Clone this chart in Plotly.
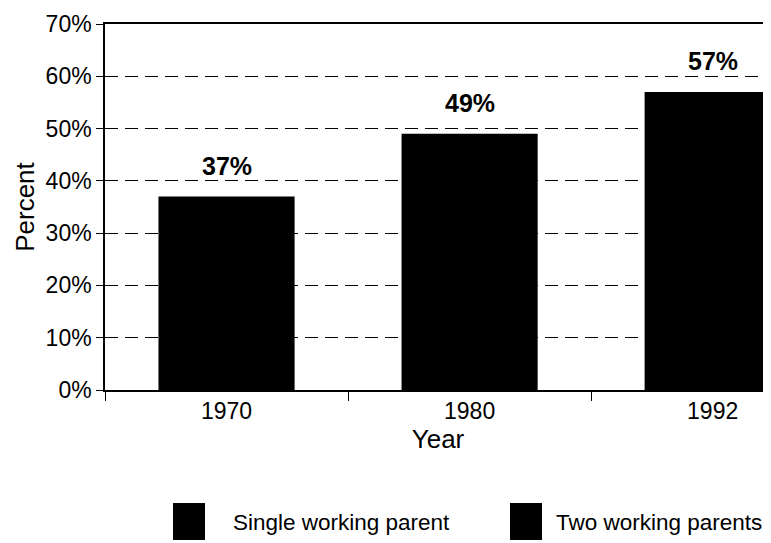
import plotly.graph_objects as go

years = ["1970", "1980", "1992"]
two_working = [37, 49, 57]
legend_labels = ["Single working parent", "Two working parents"]
y_ticks = [0, 10, 20, 30, 40, 50, 60, 70]
y_tick_text = [f"{v}%" for v in y_ticks]

FONT = "Arial, Liberation Sans, sans-serif"

fig = go.Figure()
fig.add_trace(go.Bar(
    x=years, y=two_working, name=legend_labels[1],
    marker=dict(color="black", line=dict(width=0)),
    showlegend=False,
))

# value labels above bars (category index positions)
for i, v in enumerate(two_working):
    fig.add_annotation(x=i, y=v, xref="x", yref="y", text=f"<b>{v}%</b>",
                       showarrow=False, yanchor="bottom", yshift=15,
                       font=dict(family=FONT, size=25, color="black"))

# manual legend (large black squares); window-pixel helpers (page body offset 8px)
PX_W, PX_H = 666, 366
def px(xp):
    return (xp - 105) / PX_W
def py(yp):
    return (390 - yp) / PX_H

for (x0, x1), lab, tx in zip([(173, 205), (510, 542)], legend_labels, [231, 554]):
    fig.add_shape(type="rect", xref="paper", yref="paper",
                  x0=px(x0), x1=px(x1), y0=py(540), y1=py(503),
                  fillcolor="black", line=dict(width=0))
    fig.add_annotation(xref="paper", yref="paper", x=px(tx), y=py(522),
                       text=lab, showarrow=False, xanchor="left", yanchor="middle",
                       font=dict(family=FONT, size=22.5, color="black"))

fig.update_layout(
    width=763, height=535,
    margin=dict(l=97, r=0, t=16, b=153),
    paper_bgcolor="white", plot_bgcolor="white",
    bargap=0.44,
    font=dict(family=FONT, color="black"),
    xaxis=dict(
        range=[-0.5, 2.24], type="category", automargin=False,
        showline=True, linecolor="black", linewidth=1.5, mirror=True,
        ticks="outside", tickson="boundaries", ticklen=9, tickcolor="black",
        tickfont=dict(size=23, family=FONT), showgrid=False,
        title=dict(text="Year", font=dict(size=26, family=FONT), standoff=0),
    ),
    yaxis=dict(
        range=[0, 70], tickvals=y_ticks, ticktext=y_tick_text, automargin=False,
        showline=True, linecolor="black", linewidth=1.5,
        ticks="outside", ticklen=7, tickcolor="black",
        tickfont=dict(size=23, family=FONT),
        showgrid=True, gridcolor="black", griddash="13px,7px", gridwidth=1.3,
        zeroline=False,
        title=dict(text="Percent", font=dict(size=26, family=FONT), standoff=4),
    ),
)

fig.write_html("out.html")
